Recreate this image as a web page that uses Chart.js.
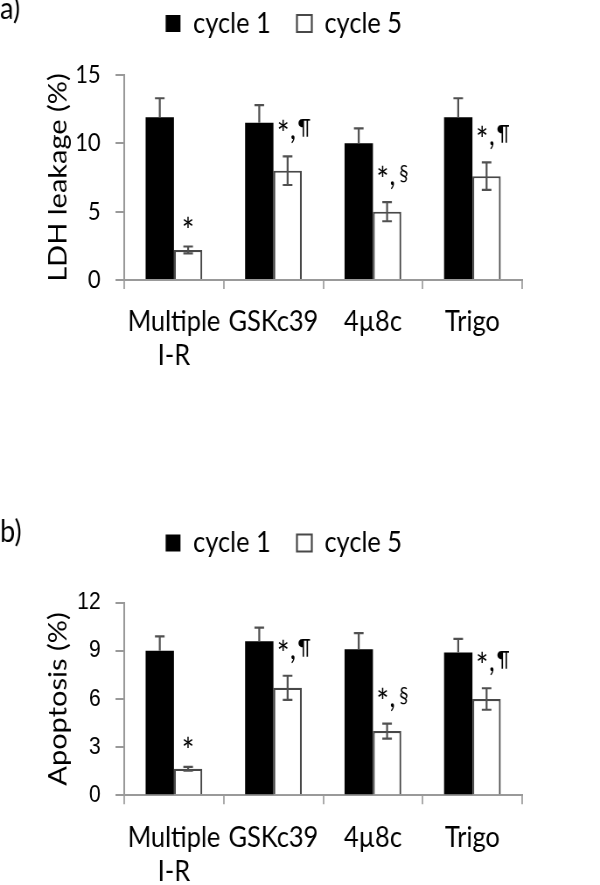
<!DOCTYPE html>
<html>
<head>
<meta charset="utf-8">
<script src="https://cdn.jsdelivr.net/npm/chart.js@4.4.0/dist/chart.umd.min.js"></script>
<style>
  html, body { margin: 0; background: #fff; width: 600px; height: 885px; overflow: hidden; }
  /* the source figure is horizontally squeezed; draw wide, then squeeze the same way */
  .panel { position: absolute; left: 0; width: 686px; transform: scaleX(0.8746); transform-origin: 0 0; }
</style>
</head>
<body>
<div class="panel" style="top:0;height:440px"><canvas id="ldh" width="686" height="440"></canvas></div>
<div class="panel" style="top:440px;height:445px"><canvas id="apo" width="686" height="445"></canvas></div>
<script>
// data
const categories = [["Multiple", "I-R"], "GSKc39", "4µ8c", "Trigo"];
const seriesNames = ["cycle 1", "cycle 5"];

const ldhCycle1 = [11.9, 11.5, 10.0, 11.9];
const ldhCycle1Err = [1.4, 1.3, 1.1, 1.4];
const ldhCycle5 = [2.2, 8.0, 5.0, 7.6];
const ldhCycle5Err = [0.25, 1.05, 0.7, 1.0];
const ldhTicks = [0, 5, 10, 15];

const apoCycle1 = [9.0, 9.6, 9.1, 8.9];
const apoCycle1Err = [0.9, 0.85, 1.0, 0.85];
const apoCycle5 = [1.65, 6.7, 4.0, 6.0];
const apoCycle5Err = [0.12, 0.75, 0.47, 0.67];
const apoTicks = [0, 3, 6, 9, 12];

const marks = ["*", "*,¶", "*,§", "*,¶"];

Chart.defaults.font.family = 'Lato';
Chart.defaults.color = '#000';

function drawMark(ctx, text, x, top) {
  const parts = text.split(',');
  ctx.textAlign = 'center';
  ctx.textBaseline = 'alphabetic';
  ctx.font = '34px Lato';
  if (parts.length === 1) {
    ctx.fillText(parts[0], x, top - 4);
    return;
  }
  ctx.fillText(parts[0], x - 5, top - 10);
  ctx.font = '30px Lato';
  ctx.fillText(',', x + 6, top - 17);
  ctx.font = '21px Lato';
  ctx.fillText(parts[1], x + 19, top - 22);
}

// error bars, significance marks and the panel letter
const extras = {
  id: 'extras',
  afterDatasetsDraw(chart, args, opts) {
    const ctx = chart.ctx;
    const y = chart.scales.y;
    ctx.save();
    chart.data.datasets.forEach((ds, i) => {
      chart.getDatasetMeta(i).data.forEach((bar, j) => {
        const top = y.getPixelForValue(ds.data[j] + ds.err[j]);
        const bot = ds.errDown ? y.getPixelForValue(ds.data[j] - ds.err[j]) : bar.y;
        ctx.strokeStyle = '#505050';
        ctx.lineWidth = 2.2;
        ctx.beginPath();
        ctx.moveTo(bar.x, top);
        ctx.lineTo(bar.x, bot);
        ctx.moveTo(bar.x - 5.5, top);
        ctx.lineTo(bar.x + 5.5, top);
        if (ds.errDown) {
          ctx.moveTo(bar.x - 5.5, bot);
          ctx.lineTo(bar.x + 5.5, bot);
        }
        ctx.stroke();
        if (ds.marks) {
          ctx.fillStyle = '#000';
          drawMark(ctx, ds.marks[j], bar.x, top);
        }
      });
    });
    ctx.fillStyle = '#000';
    ctx.font = '31px Lato';
    ctx.textAlign = 'left';
    ctx.textBaseline = 'alphabetic';
    ctx.fillText(opts.panel, 0, opts.panelY);
    ctx.restore();
  }
};

function makeChart(id, cfg) {
  return new Chart(document.getElementById(id), {
    type: 'bar',
    plugins: [extras],
    data: {
      labels: categories,
      datasets: [
        {
          label: seriesNames[0], data: cfg.c1, err: cfg.e1,
          backgroundColor: '#000', borderColor: '#000', borderWidth: 0,
          xAxisID: 'x', yAxisID: 'y'
        },
        {
          label: seriesNames[1], data: cfg.c5, err: cfg.e5, errDown: true, marks: marks,
          backgroundColor: '#fff', borderColor: '#484848', borderWidth: 2.2,
          xAxisID: 'x', yAxisID: 'y'
        }
      ]
    },
    options: {
      responsive: false,
      animation: false,
      layout: { padding: { top: cfg.padTop, left: 52, right: 89, bottom: 0 } },
      datasets: { bar: { categoryPercentage: 0.57, barPercentage: 1 } },
      plugins: {
        legend: {
          labels: {
            font: { family: 'Lato', size: 29 },
            color: '#000',
            boxWidth: 17,
            boxHeight: 17,
            padding: 30
          }
        },
        tooltip: { enabled: false },
        extras: { panel: cfg.panel, panelY: cfg.panelY }
      },
      scales: {
        x: {
          grid: { drawOnChartArea: false, tickLength: 9, color: '#aaa', lineWidth: 2, offset: true },
          border: { color: '#999', width: 2 },
          ticks: {
            font: { family: 'Lato', size: 29, lineHeight: 1.17 },
            color: '#000', padding: 16, maxRotation: 0, autoSkip: false
          },
          afterFit: s => { s.height = cfg.xHeight; }
        },
        pad: {
          type: 'category',
          position: 'top',
          grid: { display: false },
          border: { display: false },
          ticks: { display: false },
          afterFit: s => { s.height = cfg.topGap; }
        },
        y: {
          min: 0,
          max: cfg.ticks[cfg.ticks.length - 1],
          afterBuildTicks: s => { s.ticks = cfg.ticks.map(v => ({ value: v })); },
          ticks: { font: { family: cfg.tickFont, size: cfg.tickSize }, color: '#000', padding: 17 },
          grid: { drawOnChartArea: false, tickLength: 10, color: '#999', lineWidth: 2 },
          border: { color: '#999', width: 2 },
          title: {
            display: true, text: cfg.title, color: '#000',
            font: { family: 'Lato', size: 29, lineHeight: 1 },
            padding: { top: 0, bottom: 0 }
          },
          afterFit: s => { s.width = 90; }
        }
      }
    }
  });
}

makeChart('ldh', {
  c1: ldhCycle1, e1: ldhCycle1Err, c5: ldhCycle5, e5: ldhCycle5Err, ticks: ldhTicks,
  title: 'LDH leakage (%)', tickFont: 'Lato', tickSize: 25, panel: 'a)', panelY: 19,
  padTop: -21, topGap: 27, xHeight: 160
});

makeChart('apo', {
  c1: apoCycle1, e1: apoCycle1Err, c5: apoCycle5, e5: apoCycle5Err, ticks: apoTicks,
  title: 'Apoptosis (%)', tickFont: 'Liberation Sans', tickSize: 24, panel: 'b)', panelY: 102,
  padTop: 58.5, topGap: 35.2, xHeight: 89.7
});
</script>
</body>
</html>
